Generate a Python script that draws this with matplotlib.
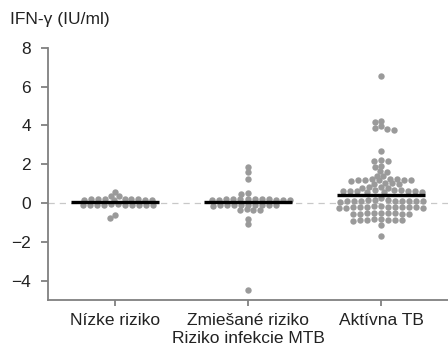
import matplotlib
matplotlib.use("Agg")
import matplotlib.pyplot as plt
import numpy as np

plt.rcParams['font.family'] = ['Liberation Sans', 'DejaVu Sans']

# IFN-gamma hodnoty odčítané z obrázka (IU/ml)
nizke = [0.58, 0.38, 0.36,
         0.22, 0.21, 0.20, 0.20, 0.19, 0.19, 0.18, 0.18, 0.17, 0.16,
         -0.06, -0.07, -0.08, -0.08, -0.09, -0.09, -0.10, -0.10, -0.11, -0.12, -0.12,
         -0.62, -0.79]

zmiesane = [1.84, 1.58, 1.24, 0.53, 0.46,
            0.23, 0.22, 0.21, 0.20, 0.20, 0.19, 0.19, 0.18, 0.18, 0.17, 0.16, 0.15,
            -0.08, -0.09, -0.09, -0.10, -0.10, -0.11, -0.11, -0.12, -0.12, -0.13,
            -0.33, -0.35, -0.36, -0.38,
            -0.82, -1.10, -4.50]

aktivna = [6.56, 4.24, 4.18, 3.97, 3.88, 3.81, 3.75,
           2.70, 2.20, 2.18, 2.16, 1.90, 1.85, 1.65, 1.62,
           1.42, 1.38,
           1.26, 1.24, 1.22, 1.21, 1.20, 1.19, 1.18, 1.17, 1.16,
           1.02, 1.01, 0.99, 0.98,
           0.82, 0.81, 0.79, 0.78,
           0.67, 0.66, 0.65, 0.64, 0.63, 0.62, 0.61, 0.60, 0.59, 0.58, 0.57,
           0.25, 0.15, 0.15, 0.14, 0.13, 0.12, 0.12, 0.11, 0.10, 0.10, 0.09, 0.09, 0.08,
           -0.16, -0.17, -0.18, -0.18, -0.19, -0.20, -0.20, -0.21, -0.22, -0.22, -0.23, -0.23, -0.24,
           -0.49, -0.50, -0.51, -0.52, -0.53, -0.54, -0.55, -0.56, -0.57,
           -0.82, -0.83, -0.85, -0.86, -0.87, -0.88, -0.89, -0.90,
           -1.13, -1.70]

skupiny = [nizke, zmiesane, aktivna]
popisky = ["Nízke riziko", "Zmiešané riziko\nRiziko infekcie MTB", "Aktívna TB"]
yticks = [-4, -2, 0, 2, 4, 6, 8]

fig = plt.figure(figsize=(4.48, 3.49), dpi=100)
ax = fig.add_axes([0.108, 0.140, 0.892, 0.723])
ax.set_xlim(-0.5, 2.5)
ax.set_ylim(-5, 8)
fig.canvas.draw()


def swarm(hodnoty, rx=7.0, ry=5.0):
    # jednoduchy beeswarm v pixeloch (elipsa, aby sa riadky neroztahovali)
    bb = ax.get_window_extent()
    sx = bb.width / 3.0
    sy = bb.height / 13.0
    ys = np.sort(np.asarray(hodnoty, float))[::-1]
    xs = []
    for i, y in enumerate(ys):
        blizke = [(xs[j], ys[j]) for j in range(i) if abs(ys[j] - y) * sy < ry]
        kand = [0.0]
        for px, py in blizke:
            d = rx * np.sqrt(1 - ((py - y) * sy / ry) ** 2) / sx
            kand += [px - d, px + d]
        kand.sort(key=abs)
        for c in kand:
            if all(((c - px) * sx / rx) ** 2 + ((py - y) * sy / ry) ** 2 >= 1 - 1e-6
                   for px, py in blizke):
                xs.append(c)
                break
    return np.array(xs), ys


ax.axhline(0, color='#c8c8c8', ls=(0, (5, 4)), lw=0.9, zorder=0)
for i, g in enumerate(skupiny):
    dx, y = swarm(g)
    ax.scatter(i + dx, y, s=4.6**2, color='#9a9a9a', linewidths=0, zorder=2)
    # medián
    ax.hlines(np.median(g), i - 0.33, i + 0.33, color='black', lw=2.4, zorder=3)

ax.set_yticks(yticks)
ax.set_yticklabels([str(t).replace('-', '\u2212') for t in yticks])
ax.set_xticks(range(3))
ax.set_xticklabels(popisky, linespacing=1.25)

for s in ['top', 'right']:
    ax.spines[s].set_visible(False)
for s in ['left', 'bottom']:
    ax.spines[s].set_color('#808080')
    ax.spines[s].set_linewidth(1.3)

ax.tick_params(axis='y', length=5, width=1.3, color='#808080', labelcolor='#222222',
               labelsize=12.5, pad=7.5)
ax.tick_params(axis='x', length=4, width=1.3, color='#808080', labelcolor='#222222',
               labelsize=12.5, pad=5)

fig.text(0.022, 0.943, "IFN-γ (IU/ml)", fontsize=12.5, va='center', ha='left', color='#222222')

fig.savefig("out.png", dpi=100)
